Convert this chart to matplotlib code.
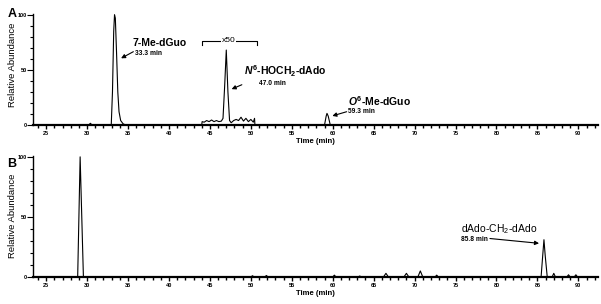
import numpy as np
import matplotlib
matplotlib.use('Agg')
import matplotlib.pyplot as plt
from matplotlib.ticker import MultipleLocator

plt.rcParams['font.family'] = ['Liberation Sans', 'DejaVu Sans']
plt.rcParams['mathtext.fontset'] = 'custom'
plt.rcParams['mathtext.rm'] = 'Liberation Sans'
plt.rcParams['mathtext.it'] = 'Liberation Sans:italic:bold'
plt.rcParams['mathtext.bf'] = 'Liberation Sans:bold'

# panel A trace (time in min, relative abundance)
time_a = [23.4, 30.2, 30.4, 30.6, 32.95, 33.1, 33.25, 33.35, 33.45, 33.6, 33.75,
          33.9, 34.1, 34.4, 34.7, 44.0, 44.05, 44.3, 44.6, 44.9, 45.2, 45.5,
          45.8, 46.1, 46.4, 46.6, 46.8, 47.0, 47.2, 47.4, 47.6, 47.9, 48.2,
          48.5, 48.8, 49.1, 49.4, 49.7, 50.0, 50.3, 50.45, 50.5, 59.0, 59.2,
          59.3, 59.45, 59.7, 92.4]
abund_a = [0, 0, 1.5, 0, 0, 30, 85, 100, 97, 65, 30,
           12, 4, 1, 0, 0, 3, 2.5, 4, 3, 4.5, 3,
           4, 3, 3.5, 6, 35, 68, 30, 4, 2, 4, 5,
           4, 7, 3.5, 6, 3, 5, 2.5, 6, 0, 0, 8,
           10.5, 8, 0, 0]

# panel B trace
time_b = [23.4, 28.85, 29.15, 29.55, 50.0, 50.2, 50.4, 51.7, 51.9, 52.1, 60.0,
          60.2, 60.4, 63.1, 63.3, 63.5, 66.2, 66.5, 66.8, 68.7, 69.0, 69.3,
          70.4, 70.7, 71.0, 72.5, 72.7, 72.9, 85.45, 85.65, 85.8, 85.95, 86.2,
          86.8, 87.0, 87.2, 88.6, 88.8, 89.0, 89.5, 89.7, 89.9, 92.4]
abund_b = [0, 0, 100, 0, 0, 1, 0, 0, 1.2, 0, 0,
           1.5, 0, 0, 0.8, 0, 0, 3, 0, 0, 3, 0,
           0, 5, 0, 0, 1.5, 0, 0, 18, 31, 18, 0,
           0, 3, 0, 0, 1.8, 0, 0, 1.8, 0, 0]

xticks = [25, 30, 35, 40, 45, 50, 55, 60, 65, 70, 75, 80, 85, 90]
yticks = [0, 50, 100]

fig = plt.figure(figsize=(6.01, 3.04), dpi=100)
ax_a = fig.add_axes([0.055, 0.589, 0.94, 0.366])
ax_b = fig.add_axes([0.055, 0.089, 0.94, 0.399])

for ax, t, y in [(ax_a, time_a, abund_a), (ax_b, time_b, abund_b)]:
    ax.plot(t, y, color='black', linewidth=0.8)
    ax.set_xlim(23.4, 92.4)
    ax.set_ylim(0, 101)
    ax.spines['top'].set_visible(False)
    ax.spines['right'].set_visible(False)
    ax.spines['left'].set_linewidth(1.0)
    ax.spines['bottom'].set_linewidth(1.6)
    ax.set_xticks(xticks)
    ax.set_yticks(yticks)
    ax.xaxis.set_minor_locator(MultipleLocator(1))
    ax.yaxis.set_minor_locator(MultipleLocator(10))
    ax.tick_params(axis='x', which='major', length=3, width=1, pad=1.5,
                   labelsize=4)
    ax.tick_params(axis='x', which='minor', length=2.5, width=1)
    ax.tick_params(axis='y', which='major', length=4, width=0.8, pad=0.5,
                   labelsize=4)
    ax.tick_params(axis='y', which='minor', length=2, width=0.8)
    for lab in ax.get_xticklabels() + ax.get_yticklabels():
        lab.set_fontweight('bold')
    ax.set_xlabel('Time (min)', fontsize=5.6, fontweight='bold', labelpad=1)
    ax.set_ylabel('Relative Abundance', fontsize=6.8)

ax_a.yaxis.set_label_coords(-0.029, 0.54)
ax_b.yaxis.set_label_coords(-0.029, 0.5)

fig.text(0.012, 0.975, 'A', fontsize=9, fontweight='bold', va='top')
fig.text(0.012, 0.48, 'B', fontsize=9, fontweight='bold', va='top')

arrow = dict(arrowstyle='-|>', color='black', lw=0.8, mutation_scale=6,
             shrinkA=0, shrinkB=0)

# panel A labels
ax_a.text(35.6, 74, '7-Me-dGuo', fontsize=7.5, fontweight='bold', va='center')
ax_a.text(35.85, 65, '33.3 min', fontsize=4.8, fontweight='bold', va='center')
ax_a.annotate('', xy=(34.15, 60.5), xytext=(35.65, 66.5), arrowprops=arrow)

ax_a.text(49.2, 48.5, r'$\mathit{N}^{\mathbf{6}}$-HOCH$_{\mathbf{2}}$-dAdo',
          fontsize=7.5, fontweight='bold', va='center')
ax_a.text(51.0, 38.0, '47.0 min', fontsize=4.8, fontweight='bold', va='center')
ax_a.annotate('', xy=(47.65, 32.5), xytext=(48.9, 36.5), arrowprops=arrow)

ax_a.text(61.9, 21.5, r'$\mathit{O}^{\mathbf{6}}$-Me-dGuo',
          fontsize=7.5, fontweight='bold', va='center')
ax_a.text(61.9, 12.0, '59.3 min', fontsize=4.8, fontweight='bold', va='center')
ax_a.annotate('', xy=(59.95, 8.2), xytext=(61.7, 12.0), arrowprops=arrow)

# x50 bracket
ax_a.plot([44.0, 44.0, 50.7, 50.7], [72.5, 76.6, 76.6, 72.5], color='black',
          linewidth=0.8)
ax_a.text(47.3, 76.6, 'x50', fontsize=6, ha='center', va='center',
          bbox=dict(facecolor='white', edgecolor='none', pad=0.6))

# panel B label
ax_b.text(80.3, 39.5, 'dAdo-CH$_2$-dAdo', fontsize=7.5, ha='center',
          va='center')
ax_b.text(79.0, 31.0, '85.8 min', fontsize=4.8, fontweight='bold', ha='right',
          va='center')
ax_b.annotate('', xy=(85.2, 28), xytext=(79.2, 32), arrowprops=arrow)

fig.savefig('out.png', dpi=100)
